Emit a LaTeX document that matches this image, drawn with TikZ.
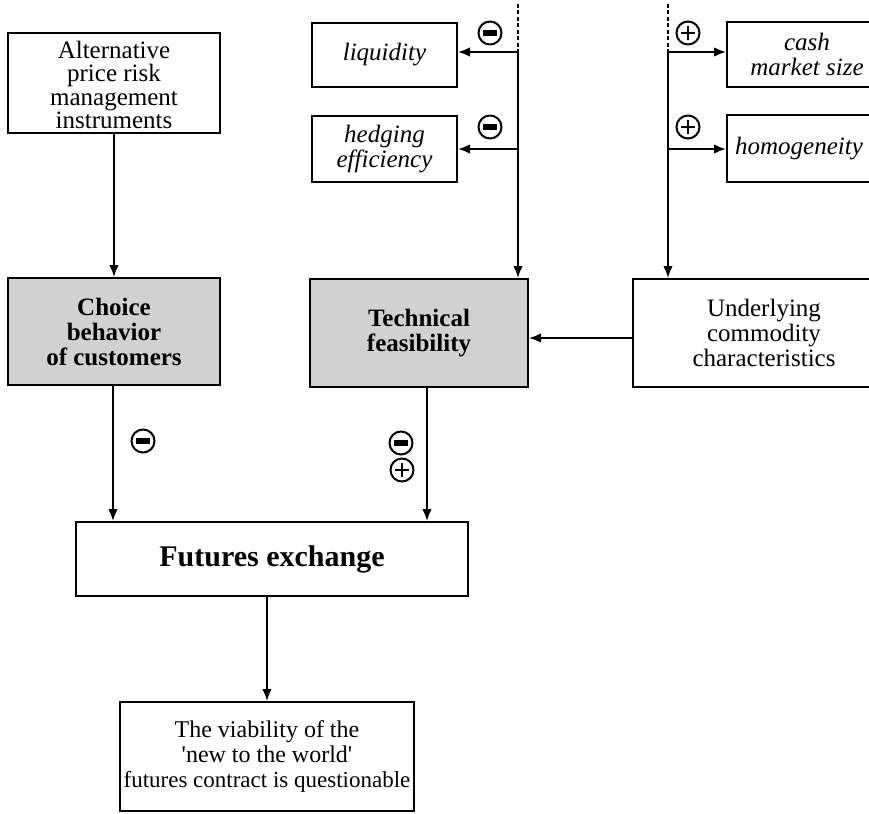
\documentclass[tikz,border=0pt]{standalone}
\usepackage{fontspec}
\setmainfont{Liberation Serif}[Ligatures=TeXOff]
\usetikzlibrary{arrows.meta}
\begin{document}
\begin{tikzpicture}[x=1pt,y=-1pt,
  box/.style={draw, line width=2pt, align=center, inner sep=0pt,
    font=\fontsize{25}{25}\selectfont},
  label/.style={align=center, inner sep=0pt, font=\fontsize{25}{23.5}\selectfont},
  shadedbox/.style={box, fill=black!18, font=\fontsize{25}{25}\selectfont\bfseries},
  italbox/.style={box, font=\fontsize{25}{25}\selectfont\itshape},
  link/.style={line width=1.7pt, -{Latex[length=12pt,width=9.5pt]}},
  feedtop/.style={line width=1.7pt, dash pattern=on 4pt off 2.5pt},
  signring/.style={circle, draw, line width=2pt, minimum size=23pt, inner sep=0pt},
  minussign/.pic={\node[signring] {}; \fill (-7,-2.8) rectangle (7,2.8);},
  plussign/.pic={\node[signring] {};
    \draw[line width=2.6pt] (-7,0) -- (7,0) (0,-7) -- (0,7);}
]
\fill[white] (0,0) rectangle (869,813);
\useasboundingbox (0,0) rectangle (869,813);
\clip (0,0) rectangle (869,813);

% left column
\node[box, minimum width=212pt, minimum height=100pt] (alt) at (114,83) {};
\node[label] (alttext) at (114,85)
  {Alternative\\price risk\\management\\instruments};
\node[shadedbox, minimum width=212pt, minimum height=107pt] (choice) at (114,331.5)
  {Choice\\behavior\\of customers};

% centre column
\node[italbox, minimum width=145pt, minimum height=64pt] (liq) at (384.5,55) {liquidity};
\node[italbox, minimum width=145pt, minimum height=66pt] (hedge) at (384.5,149) {hedging\\efficiency};
\node[shadedbox, minimum width=218pt, minimum height=108pt] (tech) at (419,333)
  {Technical\\feasibility};

% right column (runs past the page edge)
\node[italbox, minimum width=160pt, minimum height=65pt] (cash) at (807,54.5) {cash\\market size};
\node[italbox, minimum width=144pt, minimum height=67pt] (homog) at (799,148.5) {homogeneity};
\node[box, minimum width=262pt, minimum height=108pt] (under) at (764,333)
  {Underlying\\commodity\\characteristics};

% bottom
\node[box, font=\fontsize{30}{30}\selectfont\bfseries, minimum width=392pt, minimum height=74pt]
  (fut) at (272,559) {Futures exchange};
\node[box, font=\fontsize{24}{25}\selectfont, minimum width=294pt, minimum height=109pt] (viab) at (267,756.5)
  {The viability of the\\'new to the world'\\{\fontsize{23}{25}\selectfont futures contract is questionable}};

% feeder lines into the technical feasibility box
\coordinate (ltop) at (518,4);
\coordinate (lliq) at (518,52);
\coordinate (lhed) at (518,149);
\draw[feedtop] (ltop) -- (lliq);
\draw[link] (lliq) -- (lliq -| liq.east);
\draw[link] (lhed) -- (lhed -| hedge.east);
\draw[link] (lliq) -- (lliq |- tech.north);

% feeder lines into the underlying commodity box
\coordinate (rtop) at (668,4);
\coordinate (rcash) at (668,52);
\coordinate (rhom) at (668,149);
\draw[feedtop] (rtop) -- (rcash);
\draw[link] (rcash) -- (rcash -| cash.west);
\draw[link] (rhom) -- (rhom -| homog.west);
\draw[link] (rcash) -- (rcash |- under.north);

% main flow
\draw[link] (alt.south) -- (choice.north);
\coordinate (uin) at (under.west |- 0,338);
\draw[link] (uin) -- (uin -| tech.east);
\coordinate (cx) at (113,0);
\draw[link] (cx |- choice.south) -- (cx |- fut.north);
\coordinate (tx) at (427,0);
\draw[link] (tx |- tech.south) -- (tx |- fut.north);
\coordinate (fx) at (267,0);
\draw[link] (fx |- fut.south) -- (fx |- viab.north);

% signs
\pic at (490,33) {minussign};
\pic at (490,127) {minussign};
\pic at (688,33) {plussign};
\pic at (688,127) {plussign};
\pic at (143,441) {minussign};
\pic at (401,443) {minussign};
\pic at (402,470) {plussign};
\end{tikzpicture}
\end{document}
